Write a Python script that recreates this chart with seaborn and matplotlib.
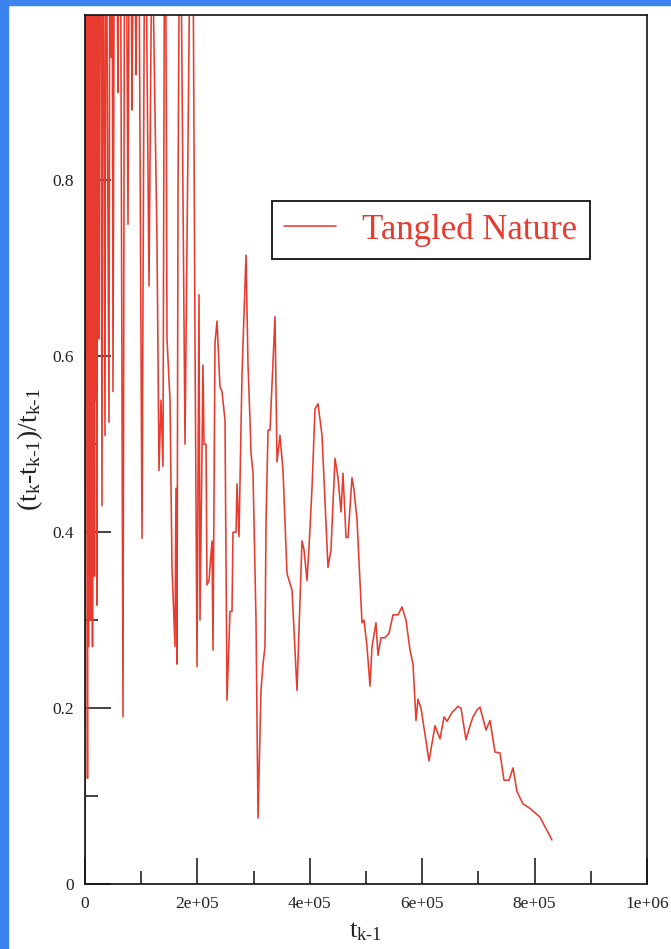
import numpy as np
import pandas as pd
import matplotlib
matplotlib.use("Agg")
import matplotlib.pyplot as plt
import matplotlib.ticker as mticker
from matplotlib.patches import Rectangle
import seaborn as sns

# ──────────────────────────────────────────────
# DATA
# ──────────────────────────────────────────────

SERIES_NAME = "Tangled Nature"

# t_{k-1}
t_prev = [
    0, 890, 4450, 5340, 6230, 7120, 8010, 8900, 9790, 10680,
    11570, 12460, 13350, 14230, 15120, 16010, 16900, 17790, 19570, 20460,
    21350, 23130, 24910, 26690, 30250, 32030, 35590, 37370, 42700, 44480,
    46260, 48040, 49820, 53380, 58720, 62280, 67620, 71170, 76510, 80070,
    83630, 87190, 90750, 94310, 101420, 106760, 113880, 119220, 128110, 131670,
    135230, 138790, 142350, 145910, 151250, 154800, 160140, 161920, 163700, 165480,
    169040, 177940, 190390, 195730, 199290, 202850, 204630, 209970, 211750, 215310,
    217090, 220650, 225980, 227760, 231320, 234880, 240210, 243770, 249110, 252670,
    258010, 261570, 263350, 268690, 270470, 274030, 279370, 286490, 290050, 293600,
    295380, 298940, 304280, 307840, 313180, 316740, 320290, 322070, 325630, 329190,
    338080, 341640, 346980, 352310, 359430, 368330, 377220, 386120, 389680, 395020,
    398580, 403920, 409250, 414590, 421710, 432390, 437720, 444840, 450180, 455520,
    459080, 464410, 467970, 475090, 478650, 483990, 492880, 496440, 501780, 507120,
    510680, 517800, 521350, 526690, 533810, 540930, 548040, 556940, 564060, 571170,
    578290, 583630, 588970, 592520, 597860, 604980, 612100, 617440, 622780, 631670,
    638790, 644130, 653030, 663700, 669040, 677940, 685050, 690390, 697510, 702850,
    713520, 720640, 729540, 738430, 745550, 754450, 761570, 768680, 779360, 791810,
    809600, 830960,
]

# (t_k - t_{k-1}) / t_{k-1}
rel_gap = [
    0.02, 1.80, 0.12, 1.50, 0.27, 1.40, 0.33, 1.60, 0.30, 1.30,
    0.38, 1.70, 0.27, 1.50, 0.45, 1.40, 0.35, 1.60, 0.55, 1.30,
    0.317, 1.40, 0.62, 1.50, 0.43, 1.30, 0.51, 1.20, 0.525, 1.30,
    0.94, 1.20, 0.56, 1.40, 0.90, 1.30, 0.19, 1.40, 0.75, 1.30,
    0.88, 1.20, 0.92, 1.30, 0.393, 1.20, 0.68, 1.10, 0.73, 0.47,
    0.55, 0.475, 1.30, 0.62, 0.55, 0.36, 0.27, 0.45, 0.25, 0.785,
    1.20, 0.50, 1.30, 0.62, 0.247, 0.67, 0.30, 0.59, 0.50, 0.50,
    0.34, 0.345, 0.39, 0.266, 0.615, 0.64, 0.565, 0.56, 0.527, 0.209,
    0.31, 0.31, 0.40, 0.40, 0.455, 0.395, 0.58, 0.715, 0.59, 0.527,
    0.49, 0.467, 0.30, 0.075, 0.22, 0.25, 0.27, 0.41, 0.516, 0.516,
    0.645, 0.48, 0.51, 0.47, 0.353, 0.334, 0.22, 0.39, 0.38, 0.345,
    0.383, 0.45, 0.54, 0.546, 0.51, 0.36, 0.38, 0.484, 0.462, 0.423,
    0.467, 0.394, 0.394, 0.462, 0.448, 0.414, 0.297, 0.30, 0.27, 0.225,
    0.27, 0.297, 0.26, 0.28, 0.28, 0.285, 0.306, 0.306, 0.315, 0.30,
    0.266, 0.25, 0.186, 0.21, 0.20, 0.17, 0.14, 0.16, 0.18, 0.165,
    0.19, 0.185, 0.195, 0.202, 0.20, 0.164, 0.18, 0.19, 0.198, 0.201,
    0.175, 0.186, 0.15, 0.149, 0.118, 0.118, 0.132, 0.105, 0.091, 0.086,
    0.076, 0.05,
]

x_ticks = [0, 2e5, 4e5, 6e5, 8e5, 1e6]
y_ticks = [0, 0.2, 0.4, 0.6, 0.8]

RED = "#e63b2e"
BLUE = "#3d83ef"

# ──────────────────────────────────────────────
# STYLE
# ──────────────────────────────────────────────

sns.set_theme(style="ticks")
plt.rcParams.update({
    "font.family": ["Liberation Serif", "DejaVu Serif"],
    "mathtext.fontset": "custom",
    "mathtext.rm": "Liberation Serif",
    "mathtext.it": "Liberation Serif",
    "axes.edgecolor": "#111111",
    "axes.linewidth": 1.2,
    "figure.facecolor": "white",
    "axes.facecolor": "white",
})

df = pd.DataFrame({"t_prev": t_prev, "gap": rel_gap})

fig = plt.figure(figsize=(6.71, 9.49), dpi=100)
ax = fig.add_axes([85 / 671, 65 / 949, 562 / 671, 869 / 949])

sns.lineplot(data=df, x="t_prev", y="gap", ax=ax, color=RED, linewidth=1.15,
             sort=False, estimator=None, label=SERIES_NAME)

ax.set_xlim(0, 1e6)
ax.set_ylim(0, 0.988)

ax.xaxis.set_major_locator(mticker.FixedLocator(x_ticks))
ax.xaxis.set_minor_locator(mticker.MultipleLocator(1e5))
ax.yaxis.set_major_locator(mticker.FixedLocator(y_ticks))
ax.yaxis.set_minor_locator(mticker.MultipleLocator(0.1))
ax.xaxis.set_major_formatter(mticker.FuncFormatter(lambda v, p: "0" if v == 0 else f"{v:.0e}"))
ax.yaxis.set_major_formatter(mticker.FuncFormatter(lambda v, p: f"{v:g}"))

ax.tick_params(which="major", direction="in", length=19, width=1.1, color="#111111",
               labelsize=12.5, labelcolor="#222222")
ax.tick_params(which="minor", direction="in", length=9.5, width=1.1, color="#111111")
ax.tick_params(axis="x", pad=9)
ax.tick_params(axis="y", pad=8)

ax.set_xlabel(r"t$_\text{k-1}$", fontsize=19, color="#222222", labelpad=6)
ax.set_ylabel(r"(t$_\text{k}$-t$_\text{k-1}$)/t$_\text{k-1}$",
              fontsize=20, color="#222222", labelpad=5)

leg = ax.legend(loc="upper left", bbox_to_anchor=((272 - 85) / 562, (884 - 201) / 869),
                borderaxespad=0, fontsize=25, handlelength=1.5, handletextpad=0.75,
                borderpad=0.35, fancybox=False, framealpha=1, edgecolor="#111111",
                labelcolor="linecolor")
leg.get_frame().set_linewidth(1.3)

# blue slide border, top and left
fig.patches.append(Rectangle((0, 1 - 5 / 949), 1, 5 / 949, transform=fig.transFigure,
                             color=BLUE, zorder=10))
fig.patches.append(Rectangle((0, 0), 8 / 671, 1, transform=fig.transFigure,
                             color=BLUE, zorder=10))

fig.savefig("out.png", dpi=100, facecolor="white")
